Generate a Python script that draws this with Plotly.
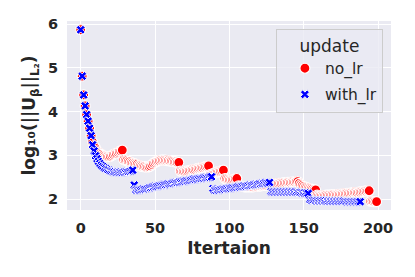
import plotly.graph_objects as go

# Iteration values for each update rule (log10 of ||U_beta||_L2)
no_lr = [
    5.87, 4.81, 4.38, 4.13, 3.93, 3.78, 3.62, 3.45, 3.30, 3.22,
    3.16, 3.10, 3.06, 3.04, 3.02, 3.00, 2.98, 2.97, 2.97, 2.97,
    2.98, 3.00, 3.02, 3.04, 3.05, 3.07, 3.09, 3.10, 3.12, 2.90,
    2.89, 2.88, 2.86, 2.85, 2.83, 2.82, 2.81, 2.80, 2.79, 2.77,
    2.76, 2.75, 2.74, 2.74, 2.73, 2.73, 2.74, 2.76, 2.79, 2.82,
    2.84, 2.86, 2.87, 2.88, 2.89, 2.89, 2.89, 2.89, 2.88, 2.88,
    2.87, 2.87, 2.86, 2.85, 2.85, 2.84, 2.84, 2.64, 2.63, 2.63,
    2.63, 2.64, 2.64, 2.65, 2.66, 2.67, 2.67, 2.68, 2.69, 2.70,
    2.71, 2.72, 2.72, 2.73, 2.74, 2.75, 2.76, 2.56, 2.57, 2.58,
    2.59, 2.61, 2.62, 2.63, 2.64, 2.65, 2.66, 2.47, 2.46, 2.45,
    2.44, 2.44, 2.44, 2.45, 2.46, 2.47, 2.30, 2.29, 2.29, 2.29,
    2.28, 2.28, 2.28, 2.28, 2.28, 2.28, 2.28, 2.29, 2.29, 2.29,
    2.30, 2.30, 2.31, 2.31, 2.32, 2.32, 2.33, 2.33, 2.34, 2.34,
    2.35, 2.35, 2.35, 2.36, 2.36, 2.36, 2.37, 2.37, 2.37, 2.38,
    2.38, 2.38, 2.39, 2.39, 2.39, 2.40, 2.40, 2.36, 2.33, 2.31,
    2.29, 2.27, 2.26, 2.25, 2.24, 2.23, 2.22, 2.21, 2.21, 2.09,
    2.08, 2.08, 2.08, 2.08, 2.08, 2.09, 2.09, 2.09, 2.09, 2.10,
    2.10, 2.10, 2.10, 2.11, 2.11, 2.11, 2.12, 2.12, 2.12, 2.13,
    2.13, 2.13, 2.14, 2.14, 2.15, 2.15, 2.15, 2.16, 2.16, 2.17,
    2.17, 2.18, 2.18, 2.19, 2.19, 1.95, 1.95, 1.94, 1.94, 1.94,
]

with_lr = [
    5.87, 4.81, 4.38, 4.13, 3.93, 3.78, 3.62, 3.45, 3.24, 3.10,
    2.99, 2.92, 2.86, 2.81, 2.77, 2.74, 2.71, 2.69, 2.67, 2.66,
    2.64, 2.63, 2.62, 2.62, 2.61, 2.61, 2.61, 2.61, 2.61, 2.62,
    2.62, 2.63, 2.63, 2.64, 2.65, 2.66, 2.32, 2.21, 2.21, 2.21,
    2.21, 2.22, 2.23, 2.23, 2.24, 2.25, 2.26, 2.26, 2.27, 2.28,
    2.29, 2.29, 2.30, 2.31, 2.31, 2.32, 2.33, 2.33, 2.34, 2.35,
    2.35, 2.36, 2.36, 2.37, 2.38, 2.38, 2.39, 2.39, 2.40, 2.41,
    2.41, 2.42, 2.42, 2.43, 2.43, 2.44, 2.45, 2.45, 2.46, 2.46,
    2.47, 2.47, 2.48, 2.48, 2.49, 2.49, 2.50, 2.50, 2.51, 2.24,
    2.20, 2.20, 2.21, 2.21, 2.22, 2.22, 2.23, 2.23, 2.24, 2.24,
    2.25, 2.25, 2.26, 2.26, 2.27, 2.27, 2.28, 2.28, 2.29, 2.29,
    2.30, 2.30, 2.31, 2.31, 2.32, 2.32, 2.33, 2.33, 2.34, 2.34,
    2.35, 2.35, 2.36, 2.36, 2.37, 2.37, 2.37, 2.38, 2.17, 2.16,
    2.16, 2.16, 2.16, 2.16, 2.16, 2.16, 2.16, 2.16, 2.16, 2.16,
    2.16, 2.16, 2.16, 2.16, 2.16, 2.16, 2.15, 2.15, 2.15, 2.14,
    2.14, 2.14, 2.13, 2.13, 1.98, 1.97, 1.97, 1.97, 1.96, 1.96,
    1.96, 1.96, 1.96, 1.96, 1.96, 1.96, 1.95, 1.95, 1.95, 1.95,
    1.95, 1.95, 1.95, 1.95, 1.95, 1.95, 1.95, 1.95, 1.94, 1.94,
    1.94, 1.94, 1.94, 1.94, 1.94, 1.94, 1.94, 1.94, 1.94,
]

iter_no_lr = list(range(len(no_lr)))
iter_with_lr = list(range(len(with_lr)))

x_ticks = [0, 50, 100, 150, 200]
y_ticks = [2, 3, 4, 5, 6]

fig = go.Figure()
fig.add_trace(go.Scatter(
    x=iter_no_lr, y=no_lr, mode="markers", name="no_lr", legendgroup="a",
    marker=dict(symbol="circle", size=10, color="#FF0000",
                line=dict(color="white", width=1.2)),
))
fig.add_trace(go.Scatter(
    x=iter_with_lr, y=with_lr, mode="markers", name="with_lr", legendgroup="b",
    marker=dict(symbol="x", size=8, color="#0000FF",
                line=dict(color="white", width=1.0)),
))

font_family = "DejaVu Sans"
# page has an 8px body margin, so the figure is made 8px smaller
fig.update_layout(
    width=407, height=269,
    margin=dict(l=59, r=24, t=13, b=67),
    paper_bgcolor="white",
    plot_bgcolor="#EAEAF2",
    font=dict(family=font_family, color="#262626"),
    legend=dict(
        title=dict(text="update", side="top center",
                   font=dict(size=17, family=font_family, color="#262626")),
        x=0.975, xanchor="right", y=0.96, yanchor="top",
        bgcolor="rgba(234,234,242,0.8)",
        bordercolor="#CCCCCC", borderwidth=1,
        font=dict(size=15.5, family=font_family, color="#262626"),
        traceorder="grouped", tracegroupgap=3, indentation=8,
    ),
    xaxis=dict(
        range=[-9.2, 208.7], tickvals=x_ticks, automargin=False,
        showgrid=True, gridcolor="white", gridwidth=1,
        zeroline=False, showline=False, ticks="", ticklabelstandoff=7,
        tickfont=dict(size=14.5, weight="bold", family=font_family, color="#262626"),
        title=dict(text="Itertaion", standoff=7,
                   font=dict(size=17, weight="bold", family=font_family, color="#262626")),
    ),
    yaxis=dict(
        range=[1.75, 6.07], tickvals=y_ticks, automargin=False,
        showgrid=True, gridcolor="white", gridwidth=1,
        zeroline=False, showline=False, ticks="", ticklabelstandoff=8,
        tickfont=dict(size=14.5, weight="bold", family=font_family, color="#262626"),
        title=dict(text="log₁₀(||U<sub>β</sub>||<sub>L₂</sub>)", standoff=7,
                   font=dict(size=17, weight="bold", family=font_family, color="#262626")),
    ),
)

fig.write_html("out.html")
